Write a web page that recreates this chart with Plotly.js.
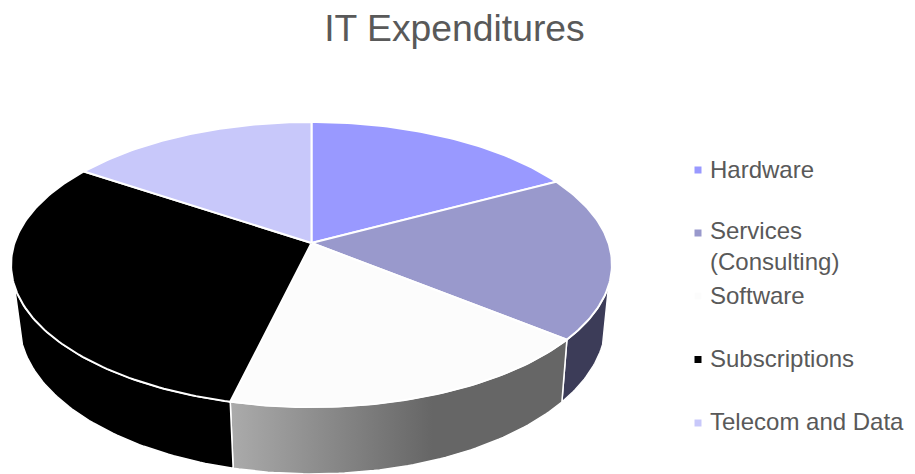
<!DOCTYPE html>
<html>
<head>
<meta charset="utf-8">
<script src="https://cdn.plot.ly/plotly-3.0.1.min.js"></script>
<style>html,body{margin:0;padding:0;background:#fff}#chart{width:915px;height:474px}</style>
</head>
<body>
<div id="chart"></div>
<script>
const categories = ['Hardware', 'Services (Consulting)', 'Software', 'Subscriptions', 'Telecom and Data'];
const legendLabels = ['Hardware', 'Services<br>(Consulting)', 'Software', 'Subscriptions', 'Telecom and Data'];
const values = [17.2, 18.6, 17.95, 30.65, 15.6];
const topColors = ['#9999FF', '#9999CC', '#FCFCFC', '#000000', '#C8C8FA'];
const titleText = 'IT Expenditures';

// Perspective projection of the pie disc: one ring for the top face, one for the base
const K = 0.151;
const topRing = {cx: 311.5, cy: 243, rx: 297, ry: 139.3};
const baseRing = {cx: 312.5, cy: 299, rx: 290, ry: 148.5};
function project(deg, ring) {
  const t = deg * Math.PI / 180, u = Math.sin(t), v = -Math.cos(t), w = 1 - K * v;
  return [ring.cx + ring.rx * u / w, ring.cy + ring.ry * v / w];
}
function arc(from, to, ring) {
  const pts = [], n = Math.max(2, Math.ceil(Math.abs(to - from)));
  for (let i = 0; i <= n; i++) pts.push(project(from + (to - from) * i / n, ring));
  return pts;
}
const total = values.reduce((a, b) => a + b, 0);
const angles = [0];
values.forEach(v => angles.push(angles[angles.length - 1] + v / total * 360));

const traces = [];
const SIDE_FROM = 107, SIDE_TO = 253;
const sideStyle = {
  'Services (Consulting)': {fillcolor: '#3C3C58'},
  'Software': {fillcolor: '#888888', fillgradient: {type: 'horizontal', colorscale: [[0, '#ABABAB'], [0.6, '#666666'], [1, '#666666']]}},
  'Subscriptions': {fillcolor: '#000000'}
};
categories.forEach((name, i) => {
  const a = Math.max(angles[i], SIDE_FROM), b = Math.min(angles[i + 1], SIDE_TO);
  if (b <= a || !sideStyle[name]) return;
  const pts = arc(a, b, topRing).concat(arc(b, a, baseRing));
  pts.push(pts[0]);
  traces.push(Object.assign({
    type: 'scatter', mode: 'lines', name: name + ' side', showlegend: false, hoverinfo: 'skip',
    x: pts.map(p => p[0]), y: pts.map(p => p[1]), fill: 'toself',
    line: {color: '#FFFFFF', width: 1.5}
  }, sideStyle[name]));
});
categories.forEach((name, i) => {
  const pts = [[topRing.cx, topRing.cy]].concat(arc(angles[i], angles[i + 1], topRing));
  pts.push([topRing.cx, topRing.cy]);
  traces.push({
    type: 'scatter', mode: 'lines', name: name, showlegend: false,
    x: pts.map(p => p[0]), y: pts.map(p => p[1]), fill: 'toself',
    fillcolor: topColors[i], line: {color: '#FFFFFF', width: 2}, hoverinfo: 'name'
  });
});

// Legend
const legendMarkX = 698, legendTextX = 707.5;
const legendMarkY = [170, 233, 296, 359.5, 423];
const legendTextY = [169, 246, 295, 358, 421];
traces.push({
  type: 'scatter', mode: 'markers', name: 'legend', showlegend: false, hoverinfo: 'skip',
  x: legendMarkY.map(() => legendMarkX), y: legendMarkY,
  marker: {symbol: 'square', size: 7, color: topColors, line: {width: 0}}
});
const annotations = legendLabels.map((t, i) => ({
  text: t, x: legendTextX, y: legendTextY[i], xref: 'x', yref: 'y', xanchor: 'left', yanchor: 'middle',
  align: 'left', showarrow: false, font: {family: 'Liberation Sans, Arial, sans-serif', size: 24, color: '#595959'}
}));

const hiddenAxis = {visible: false, fixedrange: true, showgrid: false, zeroline: false};
Plotly.newPlot('chart', traces, {
  width: 915, height: 474, margin: {l: 0, r: 0, t: 0, b: 0},
  paper_bgcolor: '#FFFFFF', plot_bgcolor: '#FFFFFF', showlegend: false,
  title: {text: titleText, x: 454.5 / 915, xanchor: 'center', y: 0.94, yanchor: 'middle',
    font: {family: 'Liberation Sans, Arial, sans-serif', size: 37.3, color: '#595959'}},
  xaxis: Object.assign({range: [0, 915]}, hiddenAxis),
  yaxis: Object.assign({range: [474, 0]}, hiddenAxis),
  annotations: annotations
}, {displayModeBar: false});
</script>
</body>
</html>
